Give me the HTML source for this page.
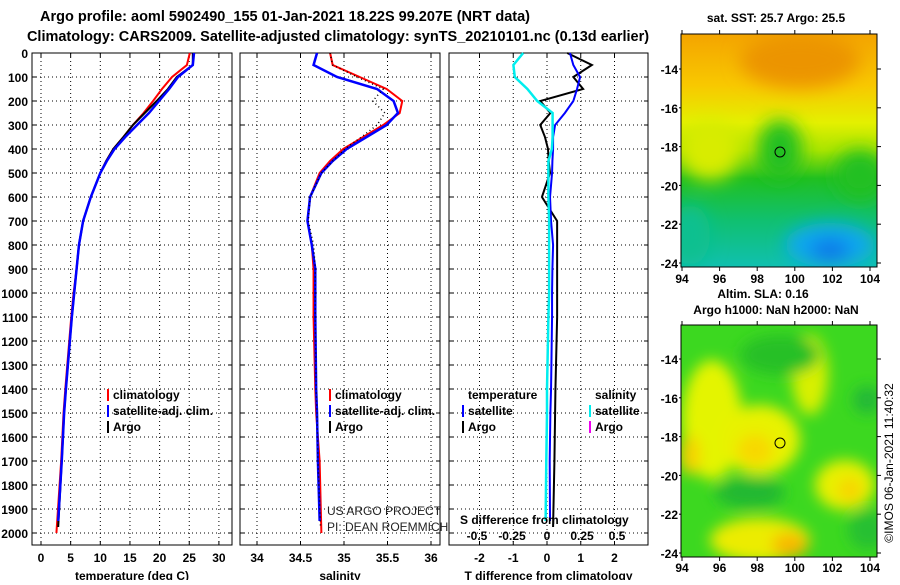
<!DOCTYPE html>
<html><head><meta charset="utf-8"><style>
body{margin:0;background:#fff;width:900px;height:580px;overflow:hidden}
svg text{font-family:"Liberation Sans",sans-serif}
</style></head><body>
<svg id="fig" width="900" height="580" xmlns="http://www.w3.org/2000/svg">
<defs>
<filter id="blur1" x="-20%" y="-20%" width="140%" height="140%"><feGaussianBlur stdDeviation="9"/></filter>
<filter id="blur2" x="-20%" y="-20%" width="140%" height="140%"><feGaussianBlur stdDeviation="7"/></filter>
<linearGradient id="sstg" x1="0" y1="0" x2="0" y2="1">
<stop offset="0" stop-color="#f4a400"/><stop offset="0.22" stop-color="#f8c800"/>
<stop offset="0.38" stop-color="#e4f000"/><stop offset="0.5" stop-color="#a8e400"/>
<stop offset="0.62" stop-color="#20c020"/><stop offset="0.8" stop-color="#10c070"/>
<stop offset="1" stop-color="#10c0b0"/></linearGradient>
<clipPath id="clipTop"><rect x="681" y="34" width="196" height="233"/></clipPath>
<clipPath id="clipBot"><rect x="681" y="325" width="196" height="232"/></clipPath>
</defs>
<text x="285" y="21" text-anchor="middle" font-size="14.5" font-weight="bold">Argo profile: aoml 5902490_155 01-Jan-2021 18.22S 99.207E (NRT data)</text>
<text x="338" y="41" text-anchor="middle" font-size="14.5" font-weight="bold">Climatology: CARS2009. Satellite-adjusted climatology: synTS_20210101.nc (0.13d earlier)</text>
<g id="plots"></g>

<!-- top map -->
<g clip-path="url(#clipTop)">
<rect x="681" y="34" width="196" height="233" fill="url(#sstg)"/>
<g filter="url(#blur1)">
<ellipse cx="800" cy="60" rx="60" ry="28" fill="#ec9400"/>
<ellipse cx="710" cy="150" rx="30" ry="30" fill="#d8ec00"/>
<ellipse cx="780" cy="150" rx="22" ry="30" fill="#20c020"/>
<ellipse cx="860" cy="175" rx="25" ry="25" fill="#20c020"/>
<ellipse cx="830" cy="245" rx="45" ry="22" fill="#10a8f0"/>
<ellipse cx="830" cy="250" rx="20" ry="10" fill="#1070e8"/>
<ellipse cx="690" cy="235" rx="20" ry="30" fill="#10c090"/>
</g>
</g>
<rect x="681" y="34" width="196" height="233" fill="none" stroke="#000"/>
<circle cx="780" cy="152" r="5" fill="none" stroke="#000"/>
<text x="776" y="22" text-anchor="middle" font-size="12" font-weight="bold">sat. SST: 25.7 Argo: 25.5</text>
<text x="763" y="298" text-anchor="middle" font-size="12" font-weight="bold">Altim. SLA: 0.16</text>

<!-- bottom map -->
<g clip-path="url(#clipBot)">
<rect x="681" y="325" width="196" height="232" fill="#3cd820"/>
<g filter="url(#blur2)">
<ellipse cx="712" cy="420" rx="30" ry="60" fill="#e4f400"/>
<ellipse cx="760" cy="440" rx="40" ry="35" fill="#e8f200"/>
<ellipse cx="755" cy="450" rx="18" ry="16" fill="#f8d800"/>
<ellipse cx="690" cy="455" rx="10" ry="20" fill="#f8d000"/>
<ellipse cx="810" cy="375" rx="18" ry="40" fill="#d8f000"/>
<ellipse cx="845" cy="485" rx="30" ry="25" fill="#e8f000"/>
<ellipse cx="850" cy="490" rx="12" ry="12" fill="#f8d400"/>
<ellipse cx="760" cy="540" rx="50" ry="22" fill="#ecec00"/>
<ellipse cx="790" cy="545" rx="18" ry="12" fill="#f8b800"/>
<ellipse cx="750" cy="493" rx="35" ry="15" fill="#20b830"/>
<ellipse cx="780" cy="355" rx="40" ry="20" fill="#28c028"/>
<ellipse cx="867" cy="400" rx="14" ry="14" fill="#20b838"/>
<ellipse cx="868" cy="530" rx="20" ry="20" fill="#28c030"/>
</g>
</g>
<rect x="681" y="325" width="196" height="232" fill="none" stroke="#000"/>
<circle cx="780" cy="443" r="5" fill="none" stroke="#000"/>
<text x="776" y="314" text-anchor="middle" font-size="12" font-weight="bold">Argo h1000: NaN h2000: NaN</text>
<text transform="translate(893,463) rotate(-90)" text-anchor="middle" font-size="12">©IMOS 06-Jan-2021 11:40:32</text>
<g id="mapaxes"></g>

<text x="327" y="515" font-size="12" fill="#222">US ARGO PROJECT</text>
<text x="327" y="531" font-size="12" fill="#222">PI: DEAN ROEMMICH</text>
<text x="460" y="524" font-size="12" font-weight="bold">S difference from climatology</text>
</svg>
<script>
const depths = [0,50,100,150,200,250,300,350,400,450,500,600,700,800,900,1000,1100,1400,1500,1700,2000];
const tempArgo = [25.6,25.6,22.9,21.4,19.5,17.5,15.5,13.9,12.2,11,10,8.4,7.1,6.4,6,5.6,5.2,4.2,3.9,3.5,2.9];
const tempClim = [25.1,24.6,22.1,20.4,18.9,17.3,15.5,13.9,12.2,11,10,8.4,7.1,6.4,6,5.5,5.1,4.1,3.8,3.4,2.6];
const tempSat = [25.8,25.6,23.1,21.6,19.9,18.2,16.2,14.2,12.4,11.1,10,8.4,7.1,6.4,6,5.6,5.2,4.2,3.9,3.5,2.9];
const salArgo = [34.84,34.87,35.15,35.45,35.33,35.47,35.38,35.2,35.01,34.87,34.74,34.61,34.59,34.65,34.67,34.67,34.67,34.68,34.69,34.7,34.73];
const salClim = [34.84,34.87,35.18,35.49,35.67,35.64,35.45,35.22,34.99,34.84,34.72,34.61,34.58,34.63,34.65,34.65,34.65,34.67,34.68,34.72,34.74];
const salSat = [34.69,34.65,34.92,35.38,35.57,35.62,35.49,35.26,35.03,34.87,34.74,34.61,34.58,34.63,34.67,34.67,34.67,34.68,34.69,34.7,34.72];
const dTArgo = [0.6,1.33,0.78,1.07,-0.2,0.1,-0.2,-0.06,0.03,0.05,0.09,-0.15,0.3,0.3,0.3,0.3,0.3,0.25,0.24,0.22,0.18];
const dTSat = [0.68,0.78,0.98,0.89,0.78,0.53,0.24,0.18,0.18,0.16,0.15,0.09,0.12,0.18,0.16,0.15,0.15,0.12,0.1,0.08,0.09];
const dSSat = [-0.17,-0.24,-0.23,-0.14,-0.07,0.04,0.04,0.04,0.035,0.01,0.01,0.01,0.015,0.015,0.015,0.015,0.01,0.0,0,-0.005,-0.01];
const depthTicks = [0,100,200,300,400,500,600,700,800,900,1000,1100,1200,1300,1400,1500,1600,1700,1800,1900,2000];
const tempTicks = [0,5,10,15,20,25,30];
const salTicks = [34,34.5,35,35.5,36];
const dTTicks = [-2,-1,0,1,2];
const dSTicks = [-0.5,-0.25,0,0.25,0.5];
const lonTicks = [94,96,98,100,102,104];
const latTicks = [-14,-16,-18,-20,-22,-24];

const NS='http://www.w3.org/2000/svg';
const g=document.getElementById('plots');
function el(tag,attrs,parent){const e=document.createElementNS(NS,tag);for(const k in attrs)e.setAttribute(k,attrs[k]);(parent||g).appendChild(e);return e;}
const yD=d=>53+0.24*d;
const xT=v=>41+5.93*v;
const xS=v=>257+87*(v-34);
const xDT=v=>547+33.75*v;
const xDS=v=>547+140*v;
const panels=[{x0:32,x1:232,f:xT,ticks:tempTicks,title:'temperature (deg C)',name:'temperature'},
{x0:240,x1:440,f:xS,ticks:salTicks,title:'salinity',name:'salinity'},
{x0:449,x1:648,f:xDT,ticks:dTTicks,title:'T difference from climatology',name:'difference'}];
panels.forEach(p=>{
  depthTicks.forEach(d=>{const l=el('line',{x1:p.x0,x2:p.x1,y1:yD(d),y2:yD(d),stroke:'#000','stroke-dasharray':'1,3','stroke-width':1});
    
    el('line',{x1:p.x0,x2:p.x0+4,y1:yD(d),y2:yD(d),stroke:'#000'});el('line',{x1:p.x1-4,x2:p.x1,y1:yD(d),y2:yD(d),stroke:'#000'});});
  p.ticks.forEach(v=>{const x=p.f(v);const l=el('line',{x1:x,x2:x,y1:53,y2:545,stroke:'#000','stroke-dasharray':'1,3'});
    
    el('line',{x1:x,x2:x,y1:53,y2:57,stroke:'#000'});el('line',{x1:x,x2:x,y1:541,y2:545,stroke:'#000'});
    const t=el('text',{x:x,y:562,'text-anchor':'middle','font-size':12,'font-weight':'bold'});t.textContent=v;
    });
  const r=el('rect',{x:p.x0,y:53,width:p.x1-p.x0,height:492,fill:'none',stroke:'#000'});
  
  const t=el('text',{x:(p.x0+p.x1)/2,y:580,'text-anchor':'middle','font-size':12,'font-weight':'bold'});t.textContent=p.title;
  
});
dSTicks.forEach(v=>{const t=el('text',{x:xDS(v),y:540,'text-anchor':'middle','font-size':12,'font-weight':'bold'});t.textContent=v;
  });
depthTicks.forEach(d=>{const t=el('text',{x:28,y:yD(d)+5,'text-anchor':'end','font-size':12,'font-weight':'bold'});t.textContent=d;
  });
function line(vals,f,color,w,name,dash,maxD){
  const pts=vals.map((v,i)=>[f(v),yD(Math.min(depths[i],maxD||2055))]);
  const pl=el('polyline',{points:pts.map(p=>p.join(',')).join(' '),fill:'none',stroke:color,'stroke-width':w});
  if(dash)pl.setAttribute('stroke-dasharray',dash);
  
}
line(tempClim,xT,'#f00',2,'temp-climatology-line',null,2055);
line(tempArgo,xT,'#000',2,'temp-argo-line',null,1975);
line(tempSat,xT,'#00f',2.5,'temp-satellite-line',null,1950);
line(salClim,xS,'#f00',2,'sal-climatology-line',null,2055);
line(salSat,xS,'#00f',2.5,'sal-satellite-line',null,1950);
line(salArgo,xS,'#000',1.5,'sal-argo-line','1,3',1975);
line(dTArgo,xDT,'#000',2,'dT-argo-line',null,1975);
line(dTSat,xDT,'#00f',2,'dT-satellite-line',null,1950);
line(dSSat,xDS,'#0ee',2.5,'dS-satellite-line',null,1950);
function leg(x,y,color,label,name){
  const m=el('rect',{x:x,y:y-10,width:2,height:12,fill:color});
  if(label){const t=el('text',{x:x+6,y:y,'font-size':12,'font-weight':'bold'});t.textContent=label;}
}
leg(107,399,'#f00','climatology','temp-legend-climatology');
leg(107,415,'#00f','satellite-adj. clim.','temp-legend-satellite');
leg(107,431,'#000','Argo','temp-legend-argo');
leg(329,399,'#f00','climatology','sal-legend-climatology');
leg(329,415,'#00f','satellite-adj. clim.','sal-legend-satellite');
leg(329,431,'#000','Argo','sal-legend-argo');
const tt=el('text',{x:468,y:399,'font-size':12,'font-weight':'bold'});tt.textContent='temperature';
const st=el('text',{x:595,y:399,'font-size':12,'font-weight':'bold'});st.textContent='salinity';
leg(462,415,'#00f','satellite','diff-legend-t-satellite');
leg(462,431,'#000','Argo','diff-legend-t-argo');
leg(589,415,'#0ee','satellite','diff-legend-s-satellite');
leg(589,431,'#e0e','Argo','diff-legend-s-argo');

const ma=document.getElementById('mapaxes');
[[34,267,69,283,'sst'],[325,557,359,572,'sla']].forEach(([top,bot,lat14,lab,nm])=>{
  lonTicks.forEach(v=>{const x=682+18.8*(v-94);
    el('line',{x1:x,x2:x,y1:top-4,y2:top,stroke:'#000'},ma);el('line',{x1:x,x2:x,y1:bot,y2:bot+4,stroke:'#000'},ma);
    const t=el('text',{x:x,y:lab,'text-anchor':'middle','font-size':12,'font-weight':'bold'},ma);t.textContent=v;
    });
  latTicks.forEach(v=>{const y=lat14+19.4*(-14-v);
    el('line',{x1:877,x2:881,y1:y,y2:y,stroke:'#000'},ma);
    el('line',{x1:679,x2:681,y1:y,y2:y,stroke:'#000'},ma);
    const t=el('text',{x:678,y:y+5,'text-anchor':'end','font-size':12,'font-weight':'bold'},ma);t.textContent=v;
    });
});
</script>
</body></html>
